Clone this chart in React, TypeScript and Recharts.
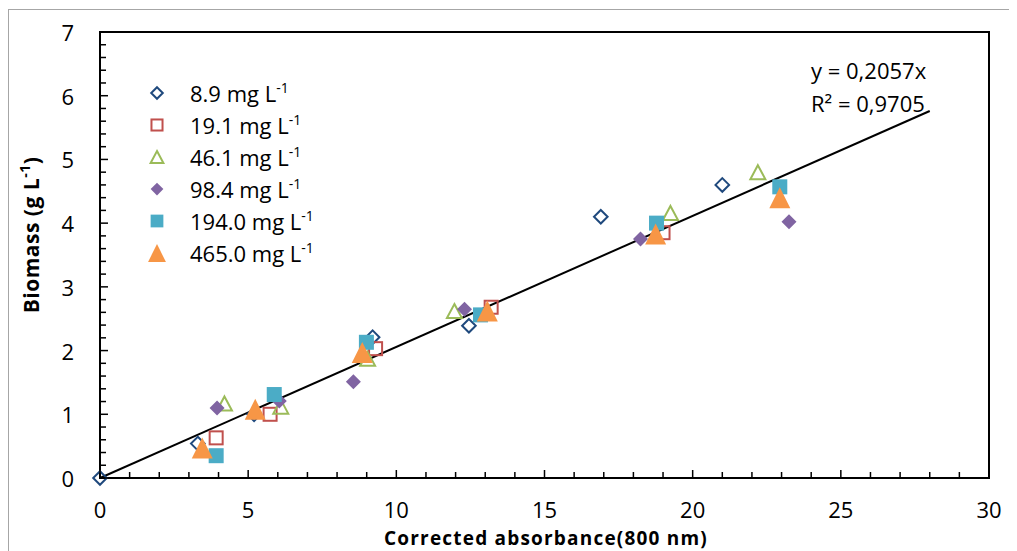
import React from 'react';
import {
  ScatterChart,
  Scatter,
  XAxis,
  YAxis,
  ReferenceLine,
  ReferenceArea,
  Legend,
  Customized,
} from 'recharts';

// ---------- data ----------
const xTicks = Array.from({ length: 31 }, (_, i) => i);
const yTicks = Array.from({ length: 36 }, (_, i) => i / 5);

const s89 = [
  { x: 0, y: 0 },
  { x: 3.3, y: 0.54 },
  { x: 5.2, y: 1.0 },
  { x: 9.2, y: 2.21 },
  { x: 12.45, y: 2.39 },
  { x: 16.9, y: 4.1 },
  { x: 21.0, y: 4.6 },
];
const s191 = [
  { x: 3.92, y: 0.63 },
  { x: 5.74, y: 1.0 },
  { x: 9.3, y: 2.03 },
  { x: 13.2, y: 2.68 },
  { x: 19.0, y: 3.85 },
];
const s461 = [
  { x: 4.2, y: 1.17 },
  { x: 6.1, y: 1.12 },
  { x: 9.03, y: 1.87 },
  { x: 11.96, y: 2.62 },
  { x: 19.25, y: 4.16 },
  { x: 22.2, y: 4.8 },
];
const s984 = [
  { x: 3.95, y: 1.1 },
  { x: 6.05, y: 1.21 },
  { x: 8.55, y: 1.51 },
  { x: 12.3, y: 2.65 },
  { x: 18.24, y: 3.75 },
  { x: 23.25, y: 4.02 },
];
const s1940 = [
  { x: 3.92, y: 0.35 },
  { x: 5.88, y: 1.31 },
  { x: 8.99, y: 2.13 },
  { x: 12.84, y: 2.56 },
  { x: 18.78, y: 4.0 },
  { x: 22.94, y: 4.57 },
];
const s4650 = [
  { x: 3.45, y: 0.47 },
  { x: 5.24, y: 1.08 },
  { x: 8.85, y: 1.97 },
  { x: 13.07, y: 2.62 },
  { x: 18.75, y: 3.83 },
  { x: 22.94, y: 4.4 },
];

const slope = 0.2057;
const r2 = '0,9705';
const trendEnd = 28;

type Kind = 'diamond' | 'square' | 'triangle';
const series: { name: string; data: { x: number; y: number }[]; color: string; kind: Kind; filled: boolean }[] = [
  { name: '8.9', data: s89, color: '#1F497D', kind: 'diamond', filled: false },
  { name: '19.1', data: s191, color: '#C0504D', kind: 'square', filled: false },
  { name: '46.1', data: s461, color: '#9BBB59', kind: 'triangle', filled: false },
  { name: '98.4', data: s984, color: '#8064A2', kind: 'diamond', filled: true },
  { name: '194.0', data: s1940, color: '#4BACC6', kind: 'square', filled: true },
  { name: '465.0', data: s4650, color: '#F79646', kind: 'triangle', filled: true },
];

const FONT = '"Open Sans", sans-serif';

function marker(kind: Kind, filled: boolean, color: string, cx: number, cy: number, k = 1) {
  const sw = 2;
  if (kind === 'diamond') {
    const r = (filled ? 7.5 : 6.8) * k;
    const pts = `${cx},${cy - r} ${cx + r},${cy} ${cx},${cy + r} ${cx - r},${cy}`;
    return <polygon points={pts} fill={filled ? color : 'none'} stroke={color} strokeWidth={filled ? 0 : sw} />;
  }
  if (kind === 'square') {
    const h = (filled ? 7.5 : 6.5) * k;
    return (
      <rect x={cx - h} y={cy - h} width={2 * h} height={2 * h} fill={filled ? color : 'none'} stroke={color} strokeWidth={filled ? 0 : sw} />
    );
  }
  const w = (filled ? 10.5 : 7.5) * k;
  const hh = (filled ? 10.5 : 7) * k;
  const pts = `${cx},${cy - hh} ${cx + w},${cy + hh} ${cx - w},${cy + hh}`;
  return <polygon points={pts} fill={filled ? color : 'none'} stroke={color} strokeWidth={filled ? 0 : sw} />;
}

const XTick = (props: any) => {
  const { x, y, payload } = props;
  const v = payload.value;
  const major = Math.abs(v % 5) < 1e-9;
  return (
    <g>
      <line x1={x} x2={x} y1={y} y2={y - (major ? 8 : 6)} stroke="#000" strokeWidth={1.5} />
      {major && (
        <text x={x} y={y + 40} textAnchor="middle" fontSize={22} fontFamily={FONT} fill="#000">
          {v}
        </text>
      )}
    </g>
  );
};

const YTick = (props: any) => {
  const { x, y, payload } = props;
  const v = payload.value;
  const major = Math.abs(v - Math.round(v)) < 1e-9;
  return (
    <g>
      <line x1={x} x2={x + (major ? 8 : 6)} y1={y} y2={y} stroke="#000" strokeWidth={1.5} />
      {major && (
        <text x={x - 26} y={y + 9} textAnchor="end" fontSize={22} fontFamily={FONT} fill="#000">
          {Math.round(v)}
        </text>
      )}
    </g>
  );
};

const renderLegend = () => (
  <div style={{ fontFamily: FONT, fontSize: 22, color: '#000' }}>
    {series.map((s) => (
      <div key={s.name} style={{ display: 'flex', alignItems: 'center', height: 32 }}>
        <svg width={20} height={22} style={{ marginRight: 23 }}>
          {marker(s.kind, s.filled, s.color, 10, 11, 0.85)}
        </svg>
        <span style={{ whiteSpace: 'nowrap' }}>
          {s.name} mg L
          <span style={{ fontSize: 14, position: 'relative', top: -9 }}>-1</span>
        </span>
      </div>
    ))}
  </div>
);

const Annotations = () => (
  <g fontFamily={FONT} fill="#000">
    <text x={803} y={71} fontSize={22}>
      y = {slope.toString().replace('.', ',')}x
    </text>
    <text x={803} y={104} fontSize={22}>
      R² = {r2}
    </text>
    <text x={538} y={537} fontSize={19} fontWeight="bold" letterSpacing={1.2} textAnchor="middle">
      Corrected absorbance(800 nm)
    </text>
    <text
      x={0}
      y={0}
      fontSize={21}
      fontWeight="bold"
      letterSpacing={0.5}
      textAnchor="middle"
      transform="translate(31,227) rotate(-90)"
    >
      Biomass (g L<tspan fontSize={14} dy={-9}>-1</tspan>
      <tspan dy={9}>)</tspan>
    </text>
  </g>
);

export default function App() {
  return (
    <div style={{ position: 'relative', width: 1009, height: 543 }}>
      <div
        style={{
          position: 'absolute',
          left: 0,
          top: 1,
          width: 1009,
          height: 542,
          borderTop: '1.5px solid #a6a6a6',
          borderLeft: '1.5px solid #a6a6a6',
          pointerEvents: 'none',
        }}
      />
      <ScatterChart width={1009} height={543} margin={{ top: 24, right: 28, left: 0, bottom: 0 }}>
        <XAxis
          type="number"
          dataKey="x"
          domain={[0, 30]}
          ticks={xTicks}
          interval={0}
          tick={<XTick />}
          tickLine={false}
          tickSize={0}
          tickMargin={0}
          height={73}
          axisLine={{ stroke: '#000', strokeWidth: 2 }}
        />
        <YAxis
          type="number"
          dataKey="y"
          domain={[0, 7]}
          ticks={yTicks}
          interval={0}
          tick={<YTick />}
          tickLine={false}
          tickSize={0}
          tickMargin={0}
          width={92}
          axisLine={{ stroke: '#000', strokeWidth: 2 }}
        />
        <ReferenceArea x1={0} x2={30} y1={0} y2={7} fill="none" fillOpacity={0} stroke="#000" strokeWidth={2} />
        <ReferenceLine
          segment={[
            { x: 0, y: 0 },
            { x: trendEnd, y: slope * trendEnd },
          ]}
          stroke="#000"
          strokeWidth={2}
        />
        {series.map((s) => (
          <Scatter
            key={s.name}
            name={s.name}
            data={s.data}
            fill={s.color}
            isAnimationActive={false}
            shape={(p: any) => marker(s.kind, s.filled, s.color, p.cx, p.cy)}
          />
        ))}
        <Legend
          content={renderLegend}
          layout="horizontal"
          verticalAlign="middle"
          align="center"
          wrapperStyle={{ position: 'absolute', left: 139, top: 69, width: 260, height: 200 }}
        />
        <Customized component={Annotations} />
      </ScatterChart>
    </div>
  );
}
